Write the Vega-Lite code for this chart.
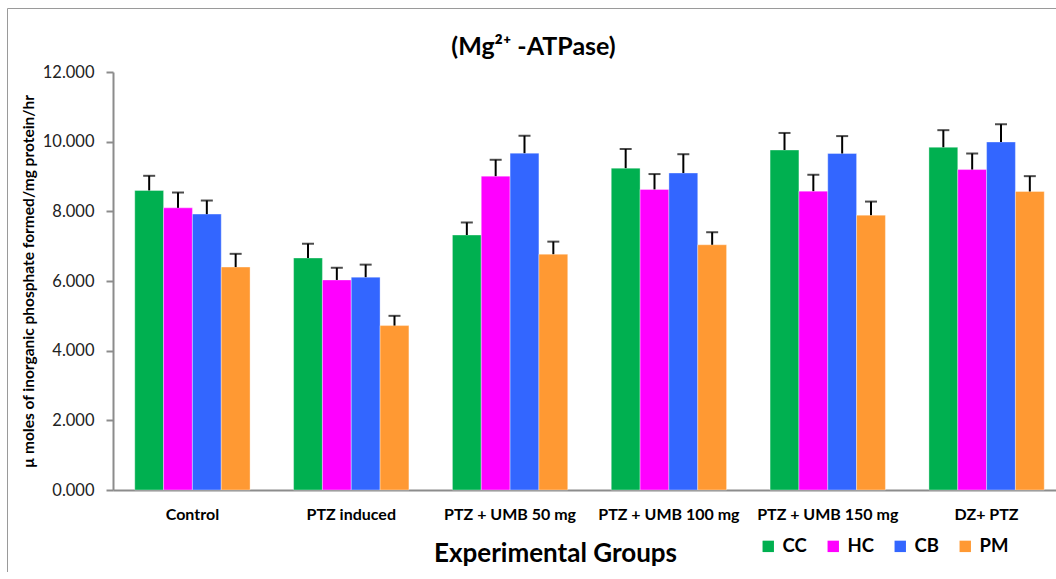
{
  "$schema": "https://vega.github.io/schema/vega-lite/v6.json",
  "autosize": {"type": "none"},
  "padding": {"left": 7, "top": 8, "right": 0, "bottom": 0},
  "width": 1053,
  "height": 564,
  "background": "white",
  "title": {
    "text": "(Mg²⁺ -ATPase)",
    "font": "Lato",
    "fontSize": 25,
    "fontWeight": "bold",
    "color": "black",
    "anchor": "middle",
    "frame": "group",
    "offset": -52
  },
  "data": {
    "values": [
      {"group": "Control", "region": "CC", "mean": 8.60, "upper": 9.02},
      {"group": "Control", "region": "HC", "mean": 8.10, "upper": 8.54},
      {"group": "Control", "region": "CB", "mean": 7.92, "upper": 8.31},
      {"group": "Control", "region": "PM", "mean": 6.40, "upper": 6.78},
      {"group": "PTZ induced", "region": "CC", "mean": 6.66, "upper": 7.07},
      {"group": "PTZ induced", "region": "HC", "mean": 6.03, "upper": 6.38},
      {"group": "PTZ induced", "region": "CB", "mean": 6.11, "upper": 6.47},
      {"group": "PTZ induced", "region": "PM", "mean": 4.72, "upper": 5.00},
      {"group": "PTZ + UMB 50 mg", "region": "CC", "mean": 7.32, "upper": 7.68},
      {"group": "PTZ + UMB 50 mg", "region": "HC", "mean": 9.01, "upper": 9.48},
      {"group": "PTZ + UMB 50 mg", "region": "CB", "mean": 9.67, "upper": 10.17},
      {"group": "PTZ + UMB 50 mg", "region": "PM", "mean": 6.77, "upper": 7.13},
      {"group": "PTZ + UMB 100 mg", "region": "CC", "mean": 9.24, "upper": 9.79},
      {"group": "PTZ + UMB 100 mg", "region": "HC", "mean": 8.63, "upper": 9.07},
      {"group": "PTZ + UMB 100 mg", "region": "CB", "mean": 9.10, "upper": 9.64},
      {"group": "PTZ + UMB 100 mg", "region": "PM", "mean": 7.04, "upper": 7.40},
      {"group": "PTZ + UMB 150 mg", "region": "CC", "mean": 9.76, "upper": 10.25},
      {"group": "PTZ + UMB 150 mg", "region": "HC", "mean": 8.58, "upper": 9.05},
      {"group": "PTZ + UMB 150 mg", "region": "CB", "mean": 9.66, "upper": 10.16},
      {"group": "PTZ + UMB 150 mg", "region": "PM", "mean": 7.89, "upper": 8.28},
      {"group": "DZ+ PTZ", "region": "CC", "mean": 9.84, "upper": 10.33},
      {"group": "DZ+ PTZ", "region": "HC", "mean": 9.20, "upper": 9.66},
      {"group": "DZ+ PTZ", "region": "CB", "mean": 9.99, "upper": 10.50},
      {"group": "DZ+ PTZ", "region": "PM", "mean": 8.57, "upper": 9.01}
    ]
  },
  "encoding": {
    "x": {
      "field": "group",
      "type": "nominal",
      "sort": null,
      "scale": {"range": [106, 1059], "paddingInner": 0.274, "paddingOuter": 0.137},
      "axis": {
        "title": "Experimental Groups",
        "titleFont": "Lato",
        "titleFontSize": 26,
        "titleFontWeight": "bold",
        "titleColor": "black",
        "titleX": 548,
        "titleY": 63,
        "titleBaseline": "middle",
        "labelFont": "Lato",
        "labelFontSize": 16,
        "labelFontWeight": "bold",
        "labelColor": "black",
        "labelAngle": 0,
        "labelPadding": 16,
        "ticks": false,
        "tickSize": 0,
        "domainColor": "#8c8c8c",
        "domainWidth": 2,
        "offset": -82
      }
    },
    "xOffset": {
      "field": "region",
      "type": "nominal",
      "sort": ["CC", "HC", "CB", "PM"],
      "scale": {"paddingInner": 0, "paddingOuter": 0}
    }
  },
  "layer": [
    {
      "mark": {"type": "bar", "stroke": "white", "strokeOpacity": 0.35, "strokeWidth": 1},
      "encoding": {
        "y": {
          "field": "mean",
          "type": "quantitative",
          "scale": {"domain": [0, 12], "range": [482, 64], "nice": false},
          "axis": {
            "title": "µ moles of inorganic phosphate formed/mg protein/hr",
            "titleFont": "Lato",
            "titleFontSize": 15.5,
            "titleFontWeight": "bold",
            "titleColor": "black",
            "titlePadding": 6,
            "values": [0, 2, 4, 6, 8, 10, 12],
            "format": ".3f",
            "labelFont": "Lato",
            "labelFontSize": 16.5,
            "labelColor": "#222222",
            "labelPadding": 12,
            "grid": false,
            "tickSize": 7,
            "tickColor": "#8c8c8c",
            "tickWidth": 2,
            "domainColor": "#8c8c8c",
            "domainWidth": 2,
            "offset": -106
          }
        },
        "color": {
          "field": "region",
          "type": "nominal",
          "sort": ["CC", "HC", "CB", "PM"],
          "scale": {"domain": ["CC", "HC", "CB", "PM"], "range": ["#00B050", "#FF00FF", "#3366FF", "#FF9933"]},
          "legend": {
            "title": null,
            "orient": "none",
            "direction": "horizontal",
            "legendX": 752,
            "legendY": 529,
            "symbolType": "square",
            "symbolSize": 130,
            "symbolStrokeWidth": 0,
            "symbolOpacity": 1,
            "labelFont": "Lato",
            "labelFontSize": 18.5,
            "labelFontWeight": "bold",
            "labelColor": "black",
            "labelOffset": 5,
            "columnPadding": 17
          }
        }
      }
    },
    {
      "mark": {"type": "rule", "color": "black", "strokeWidth": 2},
      "encoding": {
        "y": {"field": "mean", "type": "quantitative"},
        "y2": {"field": "upper"}
      }
    },
    {
      "mark": {"type": "tick", "color": "black", "thickness": 2, "size": 12},
      "encoding": {
        "y": {"field": "upper", "type": "quantitative"}
      }
    }
  ],
  "config": {
    "view": {"stroke": "#9a9a9a", "strokeWidth": 1, "clip": false}
  }
}
